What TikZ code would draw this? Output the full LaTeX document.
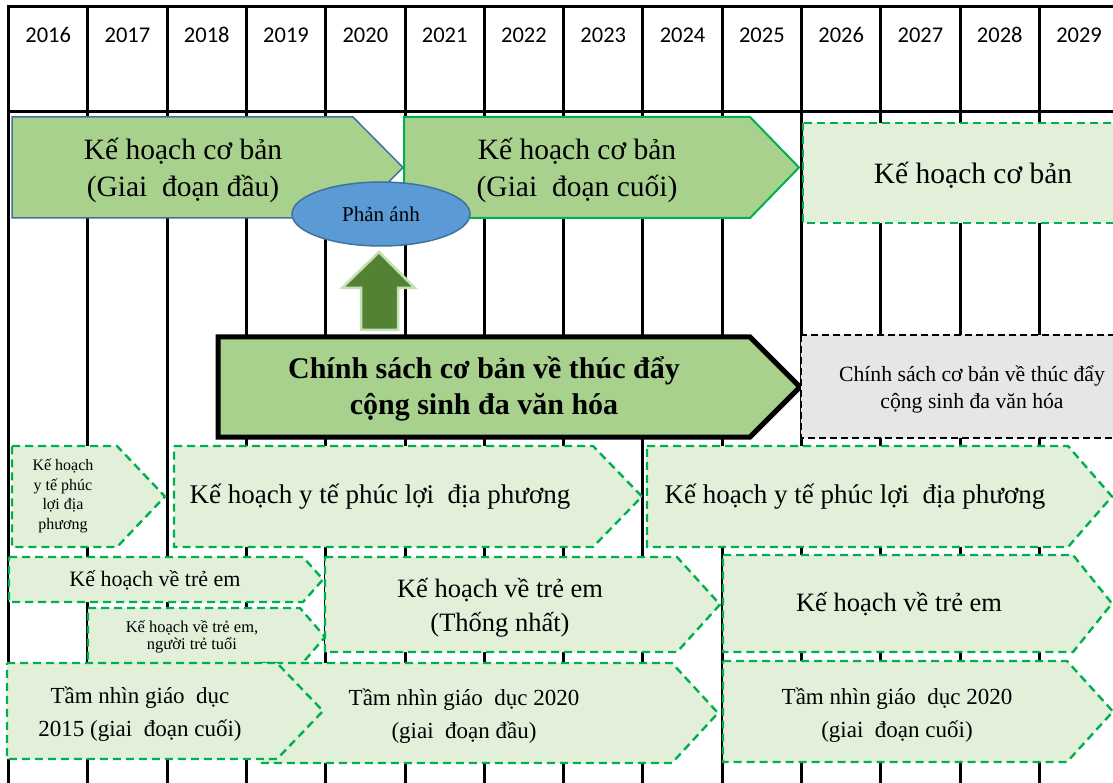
\documentclass[tikz,border=0pt]{standalone}
\usepackage{fontspec}
\usetikzlibrary{shapes.geometric}
\setmainfont{Liberation Serif}
\newfontfamily\yearfont{Carlito}
\definecolor{midgreen}{HTML}{A9D18E}
\definecolor{lgreen}{HTML}{E2F0D9}
\definecolor{dgreen}{HTML}{00B050}
\definecolor{bluegray}{HTML}{41719C}
\definecolor{ellblue}{HTML}{5B9BD5}
\definecolor{arrgreen}{HTML}{548235}
\definecolor{arredge}{HTML}{C5E0B4}
\definecolor{lgray}{HTML}{E7E6E6}
\newcommand\pentbox[6]{\draw[#1] (#2,#3) -- (#4,#3) -- (#5,{(#3+#6)/2}) -- (#4,#6) -- (#2,#6) -- cycle;}
\newcommand\fs[2]{\fontsize{#1}{#2}\selectfont}
\begin{document}
\begin{tikzpicture}[x=1pt,y=-1pt,
  gridline/.style={line width=3pt,black},
  yearlbl/.style={font=\yearfont\fs{22.5}{26}, inner sep=0pt},
  lbl/.style={align=center, inner sep=0pt},
  basicA/.style={fill=midgreen, draw=bluegray, line width=1.5pt, line join=miter},
  basicB/.style={fill=midgreen, draw=dgreen, line width=2pt, line join=miter},
  plan/.style={fill=lgreen, draw=dgreen, line width=2.4pt, dash pattern=on 8pt off 5pt},
  policy/.style={fill=midgreen, draw=black, line width=5pt, line join=miter},
  graybox/.style={fill=lgray, draw=black, line width=2pt, dash pattern=on 7pt off 4pt},
  uparrow/.style={fill=arrgreen, draw=arredge, line width=2.5pt, line join=miter},
]
\clip (0,0) rectangle (1113,783);
\fill[white] (0,0) rectangle (1113,783);
% grid
\foreach \i in {0,...,13} {
  \draw[gridline] ({8.5+79.3*\i},7) -- ({8.5+79.3*\i},790);
}
\draw[gridline] (7,7) -- (1120,7);
\draw[gridline] (7,112) -- (1120,112);
\foreach \y [count=\i from 0] in {2016,2017,2018,2019,2020,2021,2022,2023,2024,2025,2026,2027,2028,2029} {
  \node[yearlbl] (y\y) at ({48.15+79.3*\i},35) {\y};
}
% basic plans
\pentbox{basicA}{12}{117}{353}{403}{218}
\node[lbl, font=\fs{29.5}{37}] (kh1) at (183,170) {Kế hoạch cơ bản\\(Giai~ đoạn đầu)};
\pentbox{basicB}{404}{117}{750}{799}{218}
\node[lbl, font=\fs{29.5}{37}] (kh2) at (577,170) {Kế hoạch cơ bản\\(Giai~ đoạn cuối)};
\draw[plan] (803,123) rectangle (1130,223);
\node[lbl, font=\fs{29.5}{37}] (kh3) at (973,175) {Kế hoạch cơ bản};
% reflect ellipse and arrow
\node[ellipse, fill=ellblue, draw=bluegray, line width=1.5pt, minimum width=178pt, minimum height=64pt, inner sep=0pt, font=\fs{21}{24}] (pa) at (381,214) {Phản ánh};
\draw[uparrow] (361,330) -- (361,288) -- (342,288) -- (379,252) -- (415,288) -- (398,288) -- (398,330) -- cycle;
% policy
\pentbox{policy}{218}{337}{750}{800}{437}
\node[lbl, font=\bfseries\fs{30}{36}] (cs1) at (484,389) {Chính sách cơ bản về thúc đẩy\\cộng sinh đa văn hóa};
\draw[graybox] (801,335) rectangle (1130,438);
\node[lbl, font=\fs{21.7}{27}] (cs2) at (972,389) {Chính sách cơ bản về thúc đẩy\\cộng sinh đa văn hóa};
% welfare row
\pentbox{plan}{12}{446}{117}{165}{547}
\node[lbl, font=\fs{16}{19.6}] (yt1) at (63,496) {Kế hoạch\\y tế phúc\\lợi địa\\phương};
\pentbox{plan}{174}{446}{593}{642}{547}
\node[lbl, font=\fs{27}{32}] (yt2) at (380,497) {Kế hoạch y tế phúc lợi~ địa phương};
\pentbox{plan}{647}{446}{1068}{1112}{547}
\node[lbl, font=\fs{27}{32}] (yt3) at (855,497) {Kế hoạch y tế phúc lợi~ địa phương};
% children row
\pentbox{plan}{9}{557}{303}{323}{602}
\node[lbl, font=\fs{22}{26}] (te1) at (155,580) {Kế hoạch về trẻ em};
\pentbox{plan}{88}{608}{300}{325}{666}
\node[lbl, font=\fs{16.5}{17}] (te2) at (192,637) {Kế hoạch về trẻ em,\\người trẻ tuổi};
\pentbox{plan}{325}{557}{677}{720}{652}
\node[lbl, font=\fs{26.5}{34}] (te3) at (500,608) {Kế hoạch về trẻ em\\(Thống nhất)};
\pentbox{plan}{723}{555}{1073}{1112}{652}
\node[lbl, font=\fs{26.5}{32}] (te4) at (899,604) {Kế hoạch về trẻ em};
% education row
\pentbox{plan}{262}{663}{672}{718}{763}
\node[lbl, font=\fs{23}{33}] (gd2) at (464,716) {Tầm nhìn giáo~ dục 2020\\(giai~ đoạn đầu)};
\pentbox{plan}{7}{663}{277}{323}{759}
\node[lbl, font=\fs{23}{33}] (gd1) at (140,714) {Tầm nhìn giáo~ dục\\2015 (giai~ đoạn cuối)};
\pentbox{plan}{723}{661}{1067}{1113}{762}
\node[lbl, font=\fs{23}{33}] (gd3) at (897,715) {Tầm nhìn giáo~ dục 2020\\(giai~ đoạn cuối)};
\end{tikzpicture}
\end{document}
